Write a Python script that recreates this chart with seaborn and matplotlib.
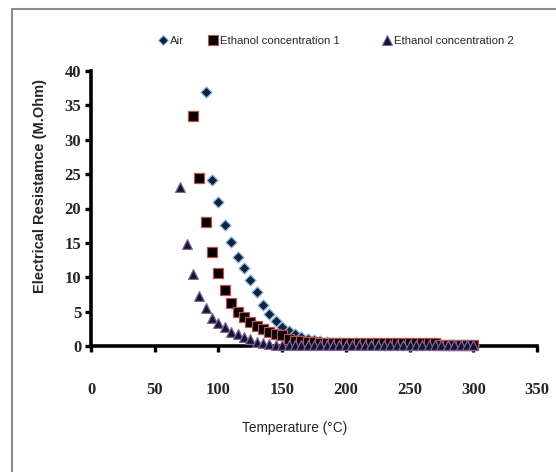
import matplotlib
matplotlib.use("Agg")
import matplotlib.pyplot as plt
from matplotlib.lines import Line2D
from matplotlib.patches import Rectangle
import seaborn as sns
import pandas as pd

# ---- data ----
series_names = ["Air", "Ethanol concentration 1", "Ethanol concentration 2"]

temp_air = [90, 95, 100, 105, 110, 115, 120, 125, 130, 135, 140, 145, 150, 155, 160,
            165, 170, 175, 180, 185, 190, 195, 200, 205, 210, 215, 220, 225, 230, 235,
            240, 245, 250, 255, 260, 265, 270, 275, 280, 285, 290, 295, 300]
res_air = [37.0, 24.2, 20.9, 17.6, 15.2, 12.9, 11.3, 9.6, 7.9, 6.0, 4.6, 3.6, 2.8, 2.2, 1.75,
           1.35, 1.05, 0.85, 0.7, 0.55, 0.45, 0.4, 0.35, 0.3, 0.28, 0.25, 0.23, 0.2, 0.2, 0.18,
           0.17, 0.16, 0.15, 0.15, 0.14, 0.13, 0.13, 0.12, 0.12, 0.11, 0.11, 0.1, 0.1]

temp_eth1 = [80, 85, 90, 95, 100, 105, 110, 115, 120, 125, 130, 135, 140, 145, 150,
             155, 160, 165, 170, 175, 180, 185, 190, 195, 200, 205, 210, 215, 220, 225,
             230, 235, 240, 245, 250, 255, 260, 265, 270, 275, 280, 285, 290, 295, 300]
res_eth1 = [33.4, 24.5, 18.1, 13.7, 10.6, 8.1, 6.3, 5.0, 4.2, 3.5, 2.9, 2.5, 2.1, 1.75, 1.55,
            1.0, 0.8, 0.7, 0.6, 0.55, 0.5, 0.45, 0.45, 0.45, 0.45, 0.45, 0.45, 0.45, 0.45, 0.45,
            0.45, 0.45, 0.45, 0.45, 0.45, 0.45, 0.45, 0.45, 0.45, 0.2, 0.2, 0.2, 0.2, 0.2, 0.2]

temp_eth2 = [70, 75, 80, 85, 90, 95, 100, 105, 110, 115, 120, 125, 130, 135, 140,
             145, 150, 155, 160, 165, 170, 175, 180, 185, 190, 195, 200, 205, 210, 215,
             220, 225, 230, 235, 240, 245, 250, 255, 260, 265, 270, 275, 280, 285, 290,
             295, 300]
res_eth2 = [23.2, 14.8, 10.5, 7.3, 5.5, 4.1, 3.3, 2.7, 2.1, 1.7, 1.35, 0.97, 0.65, 0.45, 0.3,
            0.2, 0.12, 0.08, 0.08, 0.08, 0.08, 0.08, 0.08, 0.08, 0.08, 0.08, 0.08, 0.08, 0.08, 0.08,
            0.08, 0.08, 0.08, 0.08, 0.08, 0.08, 0.08, 0.08, 0.08, 0.08, 0.08, 0.08, 0.08, 0.08, 0.08,
            0.08, 0.08]

x_ticks = [0, 50, 100, 150, 200, 250, 300, 350]
y_ticks = [0, 5, 10, 15, 20, 25, 30, 35, 40]

# ---- styles ----
face = {"Air": "#0f2240", "Ethanol concentration 1": "#000000", "Ethanol concentration 2": "#14142a"}
edge = {"Air": "#8fbde0", "Ethanol concentration 1": "#c0504d", "Ethanol concentration 2": "#8064a2"}
mark = {"Air": "D", "Ethanol concentration 1": "s", "Ethanol concentration 2": "^"}
size = {"Air": 32, "Ethanol concentration 1": 52, "Ethanol concentration 2": 50}
leg_size = {"Air": 5, "Ethanol concentration 1": 7, "Ethanol concentration 2": 7}
leg_left_px = {"Air": 160, "Ethanol concentration 1": 210, "Ethanol concentration 2": 384}

sns.set_theme(style="white")
plt.rcParams["font.family"] = ["Liberation Serif", "DejaVu Serif"]
sans = ["Liberation Sans", "DejaVu Sans"]

fig = plt.figure(figsize=(5.56, 4.72), dpi=100)
fig.patch.set_facecolor("white")
# outer chart-area frame (cropped)
fig.patches.append(Rectangle((12 / 556, -0.1), 1.2, 1 - 9 / 472 + 0.1,
                             transform=fig.transFigure, fill=False,
                             edgecolor="#8c8c8c", linewidth=1.5))

ax = fig.add_axes([91 / 556, 1 - 346 / 472, (537 - 91) / 556, (346 - 71) / 472])

for name, xs, ys in [("Air", temp_air, res_air),
                     ("Ethanol concentration 1", temp_eth1, res_eth1),
                     ("Ethanol concentration 2", temp_eth2, res_eth2)]:
    df = pd.DataFrame({"Temperature": xs, "Resistance": ys})
    sns.scatterplot(data=df, x="Temperature", y="Resistance", ax=ax,
                    marker=mark[name], s=size[name], color=face[name],
                    edgecolor=edge[name], linewidth=0.9, zorder=3, clip_on=False)

ax.set_xlim(0, 350)
ax.set_ylim(0, 40)
ax.set_xticks(x_ticks)
ax.set_yticks(y_ticks)
ax.set_xticklabels([str(v) for v in x_ticks], fontsize=12, fontweight="bold")
ax.set_yticklabels([str(v) for v in y_ticks], fontsize=12, fontweight="bold")

for side in ["top", "right"]:
    ax.spines[side].set_visible(False)
for side in ["left", "bottom"]:
    ax.spines[side].set_visible(True)
    ax.spines[side].set_linewidth(2.6)
    ax.spines[side].set_color("black")
    ax.spines[side].set_zorder(2)

ax.tick_params(axis="y", direction="out", length=4, width=2.4, color="black", pad=3, left=True)
ax.tick_params(axis="x", direction="out", length=4, width=2.4, color="black", pad=22, bottom=True)
ax.grid(False)

ax.set_xlabel("Temperature (°C)", fontsize=9.8, family=sans)
ax.xaxis.set_label_coords((295 - 91) / 446, -(428 - 346) / 275, transform=ax.transAxes)
ax.xaxis.label.set_va("center")
ax.set_ylabel("Electrical Resistamce (M.Ohm)", fontsize=10.5, fontweight="bold", family=sans)
ax.yaxis.set_label_coords(-(91 - 40) / 446, (346 - 186) / 275, transform=ax.transAxes)
ax.yaxis.label.set_va("center")

for n in series_names:
    h = Line2D([], [], linestyle="none", marker=mark[n], markersize=leg_size[n],
               markerfacecolor=face[n], markeredgecolor=edge[n], markeredgewidth=0.8)
    lg = fig.legend([h], [n], loc="center left",
                    bbox_to_anchor=(leg_left_px[n] / 556, 1 - 41 / 472),
                    frameon=False, handlelength=0.6, handletextpad=0.3,
                    borderpad=0, borderaxespad=0, prop={"family": sans, "size": 8.2})

fig.savefig("out.png", dpi=100, facecolor="white")
